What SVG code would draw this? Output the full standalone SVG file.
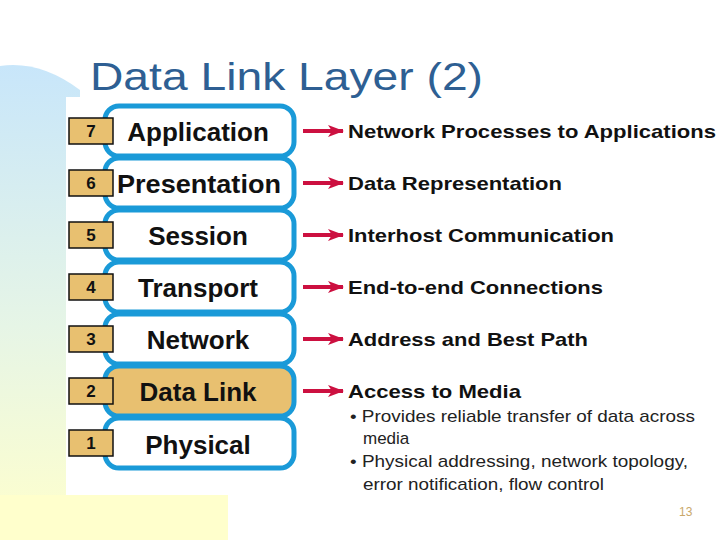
<svg xmlns="http://www.w3.org/2000/svg" width="720" height="540" viewBox="0 0 720 540">
<defs>
<linearGradient id="bg" x1="0" y1="0" x2="0" y2="1">
<stop offset="0" stop-color="#c8e6fa"/><stop offset="0.55" stop-color="#e6f5e6"/><stop offset="1" stop-color="#ffffcc"/>
</linearGradient>
<marker id="ah" markerWidth="16" markerHeight="12" refX="15" refY="6" orient="auto" markerUnits="userSpaceOnUse">
<path d="M0,0 L16,6 L0,12 L4,6 Z" fill="#cc1040"/>
</marker>
<style>
.layer{fill:#fff;stroke:#1a9ad8;stroke-width:5}
.num{fill:#e8c070;stroke:#111;stroke-width:1.5}
.nt{font-family:"Liberation Sans",Arial,sans-serif;font-weight:bold;font-size:17px;fill:#111;text-anchor:middle}
.lt{font-family:"Liberation Sans",Arial,sans-serif;font-weight:bold;font-size:26px;fill:#111;text-anchor:middle}
.dt{font-family:"Liberation Sans",Arial,sans-serif;font-weight:bold;font-size:19px;fill:#111}
.st{font-family:"Liberation Sans",Arial,sans-serif;font-size:17px;fill:#222}
.arr{stroke:#cc1040;stroke-width:4;marker-end:url(#ah)}
</style>
</defs>
<rect width="720" height="540" fill="#fff"/>
<path d="M0,66 Q40,60 80,90 L80,540 L0,540 Z" fill="url(#bg)"/>
<rect x="0" y="495" width="228" height="45" fill="#ffffcc"/>
<rect x="66" y="97" width="654" height="398" fill="#fff"/>
<text x="90" y="90" font-family="Liberation Sans,Arial,sans-serif" font-size="38" fill="#2e5f93" textLength="393" lengthAdjust="spacingAndGlyphs">Data Link Layer (2)</text>
<g id="connectors">
<line class="arr" x1="303" y1="131" x2="343" y2="131"/>
<line class="arr" x1="303" y1="183" x2="343" y2="183"/>
<line class="arr" x1="303" y1="235" x2="343" y2="235"/>
<line class="arr" x1="303" y1="287" x2="343" y2="287"/>
<line class="arr" x1="303" y1="339" x2="343" y2="339"/>
<line class="arr" x1="303" y1="391" x2="343" y2="391"/>
</g>
<g id="l7"><rect class="layer" x="105" y="106" width="189" height="50" rx="14"/><rect class="num" x="69" y="118" width="44" height="26"/><text class="nt" x="91" y="137">7</text><text class="lt" x="198" y="141">Application</text></g>
<g id="l6"><rect class="layer" x="105" y="158" width="189" height="50" rx="14"/><rect class="num" x="69" y="170" width="44" height="26"/><text class="nt" x="91" y="189">6</text><text class="lt" x="199" y="193" textLength="164" lengthAdjust="spacingAndGlyphs">Presentation</text></g>
<g id="l5"><rect class="layer" x="105" y="210" width="189" height="50" rx="14"/><rect class="num" x="69" y="222" width="44" height="26"/><text class="nt" x="91" y="241">5</text><text class="lt" x="198" y="245">Session</text></g>
<g id="l4"><rect class="layer" x="105" y="262" width="189" height="50" rx="14"/><rect class="num" x="69" y="274" width="44" height="26"/><text class="nt" x="91" y="293">4</text><text class="lt" x="198" y="297">Transport</text></g>
<g id="l3"><rect class="layer" x="105" y="314" width="189" height="50" rx="14"/><rect class="num" x="69" y="326" width="44" height="26"/><text class="nt" x="91" y="345">3</text><text class="lt" x="198" y="349">Network</text></g>
<g id="l2"><rect class="layer" x="105" y="366" width="189" height="50" rx="14" style="fill:#e8c070"/><rect class="num" x="69" y="378" width="44" height="26"/><text class="nt" x="91" y="397">2</text><text class="lt" x="198" y="401">Data Link</text></g>
<g id="l1"><rect class="layer" x="105" y="418" width="189" height="50" rx="14"/><rect class="num" x="69" y="430" width="44" height="26"/><text class="nt" x="91" y="449">1</text><text class="lt" x="198" y="454">Physical</text></g>
<text class="dt" x="348" y="138" textLength="368" lengthAdjust="spacingAndGlyphs">Network Processes to Applications</text>
<text class="dt" x="348" y="190" textLength="214" lengthAdjust="spacingAndGlyphs">Data Representation</text>
<text class="dt" x="348" y="242" textLength="266" lengthAdjust="spacingAndGlyphs">Interhost Communication</text>
<text class="dt" x="348" y="294" textLength="255" lengthAdjust="spacingAndGlyphs">End-to-end Connections</text>
<text class="dt" x="348" y="346" textLength="240" lengthAdjust="spacingAndGlyphs">Address and Best Path</text>
<text class="dt" x="348" y="398" textLength="173" lengthAdjust="spacingAndGlyphs">Access to Media</text>
<text class="st" x="350" y="422" textLength="345" lengthAdjust="spacingAndGlyphs">• Provides reliable transfer of data across</text>
<text class="st" x="363" y="444">media</text>
<text class="st" x="350" y="467" textLength="338" lengthAdjust="spacingAndGlyphs">• Physical addressing, network topology,</text>
<text class="st" x="363" y="490" textLength="241" lengthAdjust="spacingAndGlyphs">error notification, flow control</text>
<text x="679" y="516" font-family="Liberation Sans,Arial,sans-serif" font-size="12" fill="#c9a86a">13</text>
</svg>
